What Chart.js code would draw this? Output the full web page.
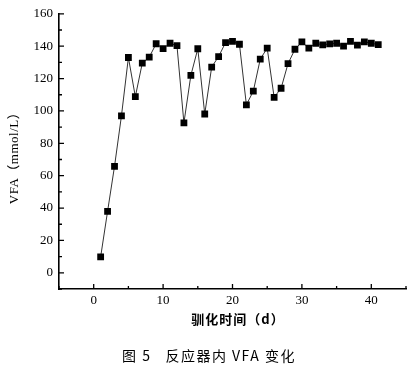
<!DOCTYPE html>
<html>
<head>
<meta charset="utf-8">
<script src="https://cdn.jsdelivr.net/npm/chart.js@4.4.0/dist/chart.umd.min.js"></script>
<style>
  html, body { margin: 0; padding: 0; background: #fff; }
  #wrap { width: 418px; height: 365px; position: relative; }
</style>
</head>
<body>
<div id="wrap"><canvas id="c" width="418" height="365"></canvas></div>
<script>
const days = [1,2,3,4,5,6,7,8,9,10,11,12,13,14,15,16,17,18,19,20,21,22,23,24,25,26,27,28,29,30,31,32,33,34,35,36,37,38,39,40,41];
const vfa = [9.8,38,65.8,97,133,108.8,129.5,133.2,141.5,138.5,141.8,140.3,92.6,122,138.4,98.1,127.1,133.6,142.2,143,141.2,103.8,112.2,132,138.8,108.4,114,129.2,138.1,142.6,138.8,141.8,140.8,141.4,141.8,140,143,140.6,142.6,141.8,141];
const xTicks = [0,10,20,30,40];
const yTicks = [0,20,40,60,80,100,120,140,160];
const xMinor = [-5,5,15,25,35,45];
const yMinor = [-10,10,30,50,70,90,110,130,150];
const xTitle = '驯化时间（d）';
const yTitle = 'VFA（mmol/L）';
const caption = '图 5   反应器内 VFA 变化';

const inwardTicks = {
  id: 'inwardTicks',
  afterDraw(chart) {
    const ctx = chart.ctx;
    const xs = chart.scales.x, ys = chart.scales.y;
    const a = chart.chartArea;
    ctx.save();
    ctx.strokeStyle = '#000';
    ctx.lineWidth = 1.3;
    ctx.beginPath();
    xTicks.forEach(v => { const p = xs.getPixelForValue(v); ctx.moveTo(p, a.bottom); ctx.lineTo(p, a.bottom - 5); });
    xMinor.forEach(v => { const p = xs.getPixelForValue(v); ctx.moveTo(p, a.bottom); ctx.lineTo(p, a.bottom - 3); });
    yTicks.forEach(v => { const p = ys.getPixelForValue(v); ctx.moveTo(a.left, p); ctx.lineTo(a.left + 5, p); });
    yMinor.forEach(v => { const p = ys.getPixelForValue(v); ctx.moveTo(a.left, p); ctx.lineTo(a.left + 3, p); });
    ctx.stroke();
    ctx.fillStyle = '#000';
    ctx.textAlign = 'center';
    ctx.textBaseline = 'middle';
    ctx.letterSpacing = '1px';
    ctx.font = 'bold 13px "Noto Sans CJK SC", sans-serif';
    ctx.fillText(xTitle, 238, 319);
    ctx.letterSpacing = '1.5px';
    ctx.font = '14px "Noto Sans CJK SC", sans-serif';
    ctx.fillText(caption, 209, 356);
    ctx.letterSpacing = '0.5px';
    ctx.translate(15, 155);
    ctx.rotate(-Math.PI / 2);
    ctx.font = '13px "Liberation Serif", "Noto Sans CJK SC", serif';
    ctx.fillText(yTitle, 0, 0);
    ctx.restore();
  }
};

new Chart(document.getElementById('c'), {
  type: 'line',
  data: {
    datasets: [{
      data: days.map((d, i) => ({x: d, y: vfa[i]})),
      borderColor: '#333',
      borderWidth: 1,
      pointStyle: 'rect',
      pointRadius: 4.8,
      pointBackgroundColor: '#000',
      pointBorderColor: '#000',
      pointBorderWidth: 0,
      tension: 0
    }]
  },
  options: {
    responsive: false,
    animation: false,
    devicePixelRatio: 1,
    layout: { padding: { top: 12, right: 12, left: 0, bottom: 0 } },
    plugins: { legend: { display: false }, tooltip: { enabled: false } },
    scales: {
      x: {
        type: 'linear',
        min: -5, max: 45,
        afterBuildTicks: s => { s.ticks = xTicks.map(v => ({value: v})); },
        afterFit: s => { s.height = 76; },
        grid: { display: true, drawOnChartArea: false, drawTicks: false, color: 'rgba(0,0,0,0)' },
        border: { display: true, color: '#000', width: 1.6 },
        ticks: { color: '#000', padding: 4, maxRotation: 0, font: { family: '"Liberation Serif", serif', size: 13 } }
      },
      y: {
        type: 'linear',
        min: -10, max: 160,
        afterBuildTicks: s => { s.ticks = yTicks.map(v => ({value: v})); },
        afterFit: s => { s.width = 59; },
        grid: { display: true, drawOnChartArea: false, drawTicks: false, color: 'rgba(0,0,0,0)' },
        border: { display: true, color: '#000', width: 1.6 },
        ticks: { color: '#000', padding: 6, font: { family: '"Liberation Serif", serif', size: 13 } }
      }
    }
  },
  plugins: [inwardTicks]
});
</script>
</body>
</html>
